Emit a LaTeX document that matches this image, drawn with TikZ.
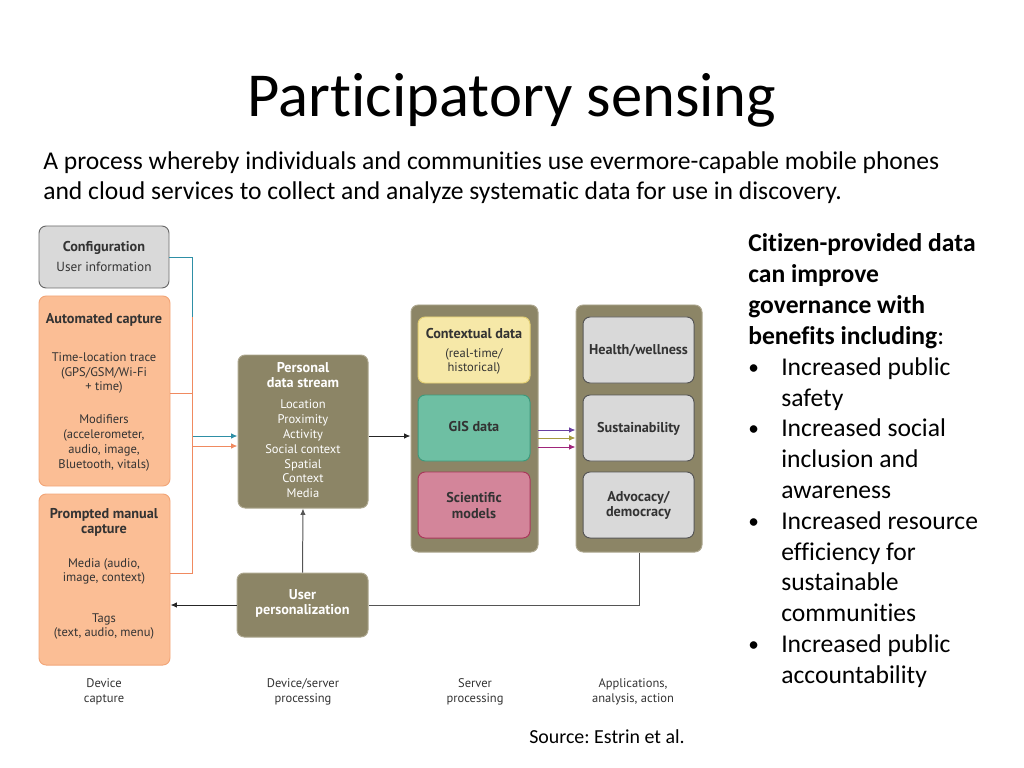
\documentclass[tikz,border=0pt]{standalone}
\usepackage{fontspec}
\setmainfont{Carlito}[Ligatures=NoCommon]
\newfontfamily\gill{PT Sans}
\frenchspacing
\usetikzlibrary{fit,arrows.meta}
\definecolor{grayfill}{HTML}{D9D9D9}
\definecolor{grayline}{HTML}{6B6B6B}
\definecolor{orfill}{HTML}{FBBE95}
\definecolor{orline}{HTML}{F2A679}
\definecolor{olfill}{HTML}{8C8566}
\definecolor{olline}{HTML}{ADA78F}
\definecolor{yefill}{HTML}{F6E8A8}
\definecolor{yeline}{HTML}{E3CF72}
\definecolor{grfill}{HTML}{6EBFA3}
\definecolor{grline}{HTML}{3E9A7C}
\definecolor{pkfill}{HTML}{D3859A}
\definecolor{pkline}{HTML}{A8385A}
\definecolor{appline}{HTML}{555555}
\definecolor{tealc}{HTML}{2E8FA6}
\definecolor{orc}{HTML}{F08A60}
\definecolor{purc}{HTML}{6A3FA0}
\definecolor{olc}{HTML}{A59A3F}
\definecolor{magc}{HTML}{A0257A}
\definecolor{txt}{HTML}{333333}
\tikzset{
  box/.style={inner sep=0pt, rounded corners=5pt, line width=0.7pt},
  graybox/.style={box, fill=grayfill, draw=grayline},
  orbox/.style={box, fill=orfill, draw=orline},
  olbox/.style={box, fill=olfill, draw=olline},
  yebox/.style={box, fill=yefill, draw=yeline},
  grbox/.style={box, fill=grfill, draw=grline},
  pkbox/.style={box, fill=pkfill, draw=pkline},
  appbox/.style={box, fill=grayfill, draw=appline},
  lab/.style={font=\gill\fontsize{8.8}{10.4}\selectfont, align=center, inner sep=0pt, text=txt},
  hd/.style={font=\gill\bfseries\fontsize{10}{10.6}\selectfont, align=center, inner sep=0pt, text=txt},
  wlab/.style={lab, text=white},
  whd/.style={hd, text=white},
  conn/.style={line width=0.7pt},
  arr/.style={conn, -{Latex[length=4.5pt,width=3.8pt]}},
  body/.style={font=\fontsize{18}{21.6}\selectfont, inner sep=0pt, anchor=base west},
  bul/.style={font=\fontsize{15}{18}\selectfont, inner sep=0pt, anchor=base west},
}
\begin{document}
\begin{tikzpicture}[x=0.703125pt, y=-0.703125pt]
\useasboundingbox (0,0) rectangle (1024,768);
% title and text
\node[font=\fontsize{44}{52}\selectfont, inner sep=0pt, anchor=base] (title) at (512,117) {Participatory sensing};
\node[body] (l1) at (43,170) {A process whereby individuals and communities use evermore-capable mobile phones};
\node[body] (l2) at (43,200) {and cloud services to collect and analyze systematic data for use in discovery.};
% right text
\node[body] (r0) at (748,252) {\textbf{Citizen-provided data}};
\node[body] (r1) at (748,282.8) {\textbf{can improve}};
\node[body] (r2) at (748,313.6) {\textbf{governance with}};
\node[body] (r3) at (748,344.4) {\textbf{benefits including}:};
\node[bul] (b1) at (748,374) {•};
\node[body] (r4) at (781,375.2) {Increased public};
\node[body] (r5) at (781,406) {safety};
\node[bul] (b2) at (748,435.6) {•};
\node[body] (r6) at (781,436.8) {Increased social};
\node[body] (r7) at (781,467.6) {inclusion and};
\node[body] (r8) at (781,498.4) {awareness};
\node[bul] (b3) at (748,528) {•};
\node[body] (r9) at (781,529.2) {Increased resource};
\node[body] (r10) at (781,560) {efficiency for};
\node[body] (r11) at (781,590.8) {sustainable};
\node[body] (r12) at (781,621.6) {communities};
\node[bul] (b4) at (748,651.2) {•};
\node[body] (r13) at (781,652.4) {Increased public};
\node[body] (r14) at (781,683.2) {accountability};
\node[font=\fontsize{14}{17}\selectfont, inner sep=0pt, anchor=base west] (src) at (529,743) {Source: Estrin et al.};
% boxes
\node[graybox, fit={(39,226) (169,288)}] (config) {};
\node[orbox, fit={(39,296) (170,486)}] (auto) {};
\node[orbox, fit={(39,494) (170,665)}] (prompt) {};
\node[olbox, fit={(238,355) (368,508)}] (pds) {};
\node[olbox, fit={(237,573) (368,637)}] (up) {};
\node[olbox, fit={(411,305) (538,552)}] (server) {};
\node[yebox, fit={(418,317) (530,383)}] (ctx) {};
\node[grbox, fit={(418,395) (530,461)}] (gis) {};
\node[pkbox, fit={(418,472) (530,538)}] (sci) {};
\node[olbox, fit={(576,305) (702,552)}] (apps) {};
\node[appbox, fit={(583,317) (694,383)}] (health) {};
\node[appbox, fit={(583,395) (694,461)}] (sust) {};
\node[appbox, fit={(583,472) (694,538)}] (adv) {};
% box texts
\node[hd] (tcfg1) at (104,248) {Configuration};
\node[lab, font=\gill\fontsize{9.3}{13.4}\selectfont] (tcfg2) at (104,267) {User information};
\node[hd] (tau1) at (104,320) {Automated capture};
\node[lab] (tau2) at (104,373) {Time-location trace\\(GPS/GSM/Wi-Fi\\+ time)};
\node[lab] (tau3) at (104,443) {Modifiers\\(accelerometer,\\audio, image,\\Bluetooth, vitals)};
\node[hd] (tpr1) at (104,522.5) {Prompted manual\\capture};
\node[lab] (tpr2) at (104,571.5) {Media (audio,\\image, context)};
\node[lab] (tpr3) at (104,626.5) {Tags\\(text, audio, menu)};
\node[whd] (tpds1) at (303,375.5) {Personal\\data stream};
\node[wlab] (tpds2) at (303,449) {Location\\Proximity\\Activity\\Social context\\Spatial\\Context\\Media};
\node[whd] (tup) at (302.5,603.5) {User\\personalization};
\node[hd] (tctx1) at (474,334) {Contextual data};
\node[lab] (tctx2) at (474,361.5) {(real-time/\\historical)};
\node[hd] (tgis) at (474,427) {GIS data};
\node[hd] (tsci) at (474,505.5) {Scientific\\models};
\node[hd] (thea) at (638.5,350) {Health/wellness};
\node[hd] (tsus) at (638.5,429) {Sustainability};
\node[hd] (tadv) at (638.5,505.5) {Advocacy/\\democracy};
% column labels
\node[lab] (c1) at (104,692) {Device\\capture};
\node[lab] (c2) at (303,692) {Device/server\\processing};
\node[lab] (c3) at (475,692) {Server\\processing};
\node[lab] (c4) at (633,692) {Applications,\\analysis, action};
% connectors
\coordinate (jt) at (192,436);
\coordinate (jo) at (192,446);
\coordinate (jtop) at (192,317);
\coordinate (ja) at (192,393);
\coordinate (jp) at (192,573);
\draw[conn, tealc] (config.east) -| (jt);
\draw[arr, tealc] (jt) -- (jt -| pds.west);
\draw[conn, orc] (ja -| auto.east) -- (ja);
\draw[conn, orc] (jp -| prompt.east) -- (jp) -- (jtop);
\draw[arr, orc] (jo) -- (jo -| pds.west);
\draw[arr, black!85] (jt -| pds.east) -- (jt -| server.west);
\draw[arr, purc] (538,430) coordinate (g1) -- (g1 -| apps.west);
\draw[arr, olc] (538,438) coordinate (g2) -- (g2 -| apps.west);
\draw[arr, magc] (538,447) coordinate (g3) -- (g3 -| apps.west);
\draw[arr, appline] (up.north) -- (pds.south);
\draw[conn, appline] (apps.south) |- (up.east);
\draw[arr, black!85] (up.west) -- (up.west -| prompt.east);
\end{tikzpicture}
\end{document}
